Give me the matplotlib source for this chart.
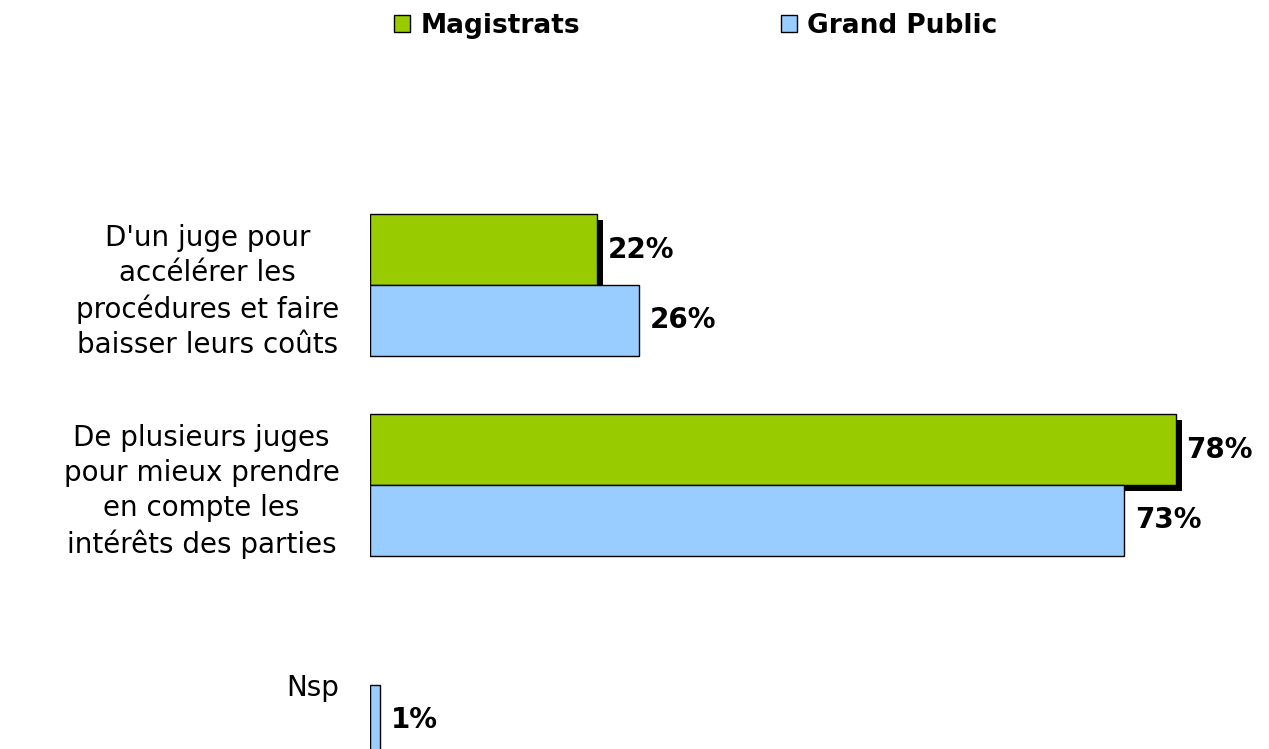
import matplotlib
matplotlib.use("Agg")
import matplotlib.pyplot as plt
import matplotlib.patheffects as pe
from matplotlib.patches import Patch

# --- Donnees ---
categories = [
    "D'un juge pour\naccélérer les\nprocédures et faire\nbaisser leurs coûts",
    "De plusieurs juges\npour mieux prendre\nen compte les\nintérêts des parties",
    "Nsp",
]
magistrats = [22, 78, 0]
grand_public = [26, 73, 1]
series = ["Magistrats", "Grand Public"]

VERT = "#99CC00"
BLEU = "#99CCFF"

plt.rcParams["font.family"] = ["DejaVu Sans"]

fig = plt.figure(figsize=(12.69, 7.49), dpi=100)
# axes: debut des barres a x=370 px, 10.33 px par %
ax = fig.add_axes([370 / 1269, 0, 878 / 1269, 1])
ax.set_xlim(0, 878 / 10.33)
ax.set_ylim(749 / 200 - 285 / 200, -285 / 200)

h = 0.355
ombre = [pe.SimplePatchShadow(offset=(4.3, -4.3), shadow_rgbFace="black", alpha=1.0),
         pe.Normal()]

for i, (m, g) in enumerate(zip(magistrats, grand_public)):
    if m > 0:
        ax.barh(i - h / 2, m, height=h, color=VERT, edgecolor="black", lw=1,
                zorder=2, path_effects=ombre)
        ax.text(m + 1.05, i - h / 2, f"{m}%", ha="left", va="center",
                fontsize=20, fontweight="bold", zorder=4)
    if g > 0:
        ax.barh(i + h / 2, g, height=h, color=BLEU, edgecolor="black", lw=1,
                zorder=3)
        ax.text(g + 1.05, i + h / 2, f"{g}%", ha="left", va="center",
                fontsize=20, fontweight="bold", zorder=4)

ax.set_yticks(range(len(categories)))
ax.set_yticklabels(categories, fontsize=20, multialignment="center", linespacing=1.32)
ax.tick_params(axis="y", length=0, pad=22)
ax.set_xticks([])
for s in ax.spines.values():
    s.set_visible(False)

handles = [Patch(facecolor=VERT, edgecolor="black", label=series[0]),
           Patch(facecolor=BLEU, edgecolor="black", label=series[1])]
fig.legend(handles=handles, loc="center", bbox_to_anchor=(696 / 1269, 1 - 26 / 749),
           ncol=2, frameon=False, prop={"size": 19, "weight": "bold"},
           handlelength=0.6, handleheight=0.6, handletextpad=0.4, columnspacing=7.6)

fig.savefig("out.png", dpi=100)
